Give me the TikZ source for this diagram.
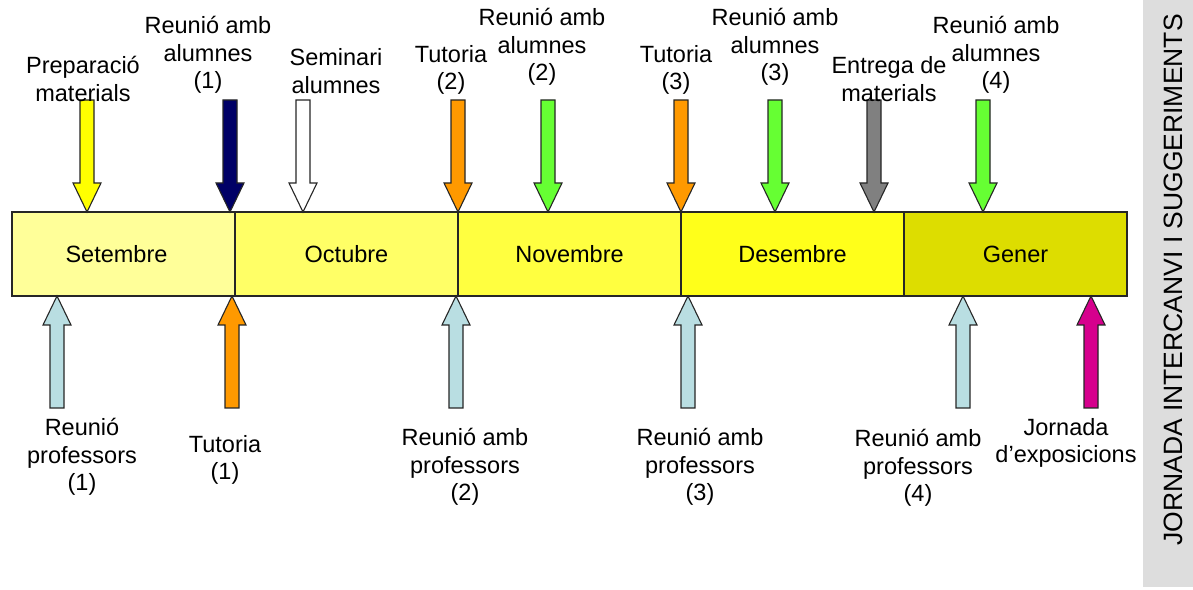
\documentclass[tikz,border=0pt]{standalone}
\usepackage{fontspec}
\setmainfont{Liberation Sans}
\usepackage{tikz}
\usetikzlibrary{positioning}
\definecolor{mset}{HTML}{FFFF99}
\definecolor{moct}{HTML}{FFFF66}
\definecolor{mnov}{HTML}{FFFF40}
\definecolor{mdes}{HTML}{FFFF1A}
\definecolor{mgen}{HTML}{DDDD00}
\definecolor{cyell}{HTML}{FFFF00}
\definecolor{cnavy}{HTML}{000066}
\definecolor{corange}{HTML}{FF9900}
\definecolor{cgreen}{HTML}{66FF33}
\definecolor{cgrey}{HTML}{808080}
\definecolor{cblue}{HTML}{B9DEE2}
\definecolor{cmag}{HTML}{D6008D}
\definecolor{side}{HTML}{DDDDDD}
\tikzstyle{month} = [rectangle, draw=black!85, line width=1.2pt, minimum width=223pt, minimum height=84pt, inner sep=0pt, outer sep=0pt, text centered, font=\fontsize{23.5}{27.5}\selectfont]
\tikzstyle{evtext} = [align=center, inner sep=0pt, font=\fontsize{23.5}{27.5}\selectfont]
\tikzstyle{evarrow} = [draw=black!85, line width=1.1pt, line join=miter]
\tikzset{blockarrow/.pic={
	\path[pic actions] (0,0) -- (14,-29) -- (7,-29) -- (7,-112) -- (-7,-112) -- (-7,-29) -- (-14,-29) -- cycle;
	\coordinate (-tail) at (0,-112);
}}

\begin{document}
\begin{tikzpicture}[x=1pt, y=1pt]
				\useasboundingbox (0,0) rectangle (1193,589);
				% Side bar
				\fill[side] (1143,2) rectangle (1193,589);
				\node[rotate=90, inner sep=0pt, font=\fontsize{26.5}{30}\selectfont] (jis) at (1173,309) {JORNADA INTERCANVI I SUGGERIMENTS};
				% Place months
				\node [month, fill=mset] (set) at (123.5,335) {\hspace*{-14pt}Setembre};
				\node [month, fill=moct, right=0pt of set] (oct) {Octubre};
				\node [month, fill=mnov, right=0pt of oct] (nov) {Novembre};
				\node [month, fill=mdes, right=0pt of nov] (des) {Desembre};
				\node [month, fill=mgen, right=0pt of des] (gen) {Gener};
				% Arrows above
				\pic [evarrow, fill=cyell, rotate=180] (prep) at (87,0 |- set.north) {blockarrow};
				\pic [evarrow, fill=cnavy, rotate=180] (ral1) at (230,0 |- set.north) {blockarrow};
				\pic [evarrow, fill=white, rotate=180] (sem) at (303,0 |- oct.north) {blockarrow};
				\pic [evarrow, fill=corange, rotate=180] (tut2) at (458,0 |- nov.north) {blockarrow};
				\pic [evarrow, fill=cgreen, rotate=180] (ral2) at (548,0 |- nov.north) {blockarrow};
				\pic [evarrow, fill=corange, rotate=180] (tut3) at (681,0 |- des.north) {blockarrow};
				\pic [evarrow, fill=cgreen, rotate=180] (ral3) at (775,0 |- des.north) {blockarrow};
				\pic [evarrow, fill=cgrey, rotate=180] (ent) at (874,0 |- des.north) {blockarrow};
				\pic [evarrow, fill=cgreen, rotate=180] (ral4) at (983,0 |- gen.north) {blockarrow};
				% Arrows below
				\pic [evarrow, fill=cblue] (rp1) at (57,0 |- set.south) {blockarrow};
				\pic [evarrow, fill=corange] (tut1) at (232,0 |- oct.south) {blockarrow};
				\pic [evarrow, fill=cblue] (rp2) at (456,0 |- nov.south) {blockarrow};
				\pic [evarrow, fill=cblue] (rp3) at (688,0 |- des.south) {blockarrow};
				\pic [evarrow, fill=cblue] (rp4) at (963,0 |- gen.south) {blockarrow};
				\pic [evarrow, fill=cmag] (jor) at (1091,0 |- gen.south) {blockarrow};
				% Labels above
				\node [evtext] (lprep) at (83,510) {Preparació\\materials};
				\node [evtext] (lral1) at (208,534) {Reunió amb\\alumnes\\(1)};
				\node [evtext] (lsem) at (336,518) {Seminari\\alumnes};
				\node [evtext] (ltut2) at (451,519) {Tutoria\\(2)};
				\node [evtext] (lral2) at (542,542) {Reunió amb\\alumnes\\(2)};
				\node [evtext] (ltut3) at (676,519) {Tutoria\\(3)};
				\node [evtext] (lral3) at (775,542) {Reunió amb\\alumnes\\(3)};
				\node [evtext] (lent) at (889,510) {Entrega de\\materials};
				\node [evtext] (lral4) at (996,534) {Reunió amb\\alumnes\\(4)};
				% Labels below
				\node [evtext] (lrp1) at (82,132) {Reunió\\professors\\(1)};
				\node [evtext] (ltut1) at (225,129) {Tutoria\\(1)};
				\node [evtext] (lrp2) at (465,122) {Reunió amb\\professors\\(2)};
				\node [evtext] (lrp3) at (700,122) {Reunió amb\\professors\\(3)};
				\node [evtext] (lrp4) at (918,121) {Reunió amb\\professors\\(4)};
				\node [evtext] (ljor) at (1066,146) {Jornada\\d’exposicions};
\end{tikzpicture}
\end{document}
